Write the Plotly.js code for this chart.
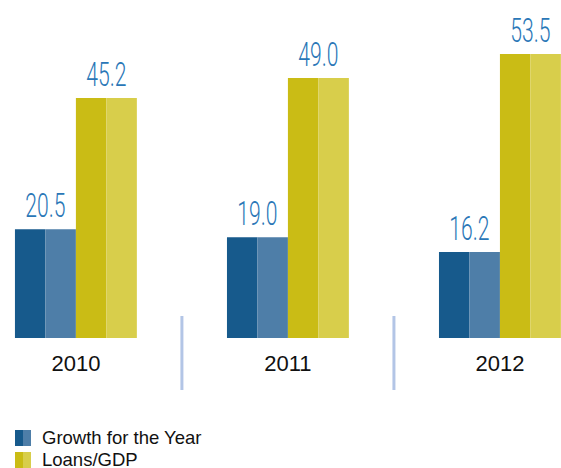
<!DOCTYPE html>
<html>
<head>
<meta charset="utf-8">
<script src="https://cdn.plot.ly/plotly-3.0.1.min.js"></script>
<style>html,body{margin:0;padding:0;background:#fff}#chart{width:561px;height:468px}</style>
</head>
<body>
<div id="chart"></div>
<script>
var years = ['2010', '2011', '2012'];
var growthForYear = [20.5, 19.0, 16.2];
var loansToGDP = [45.2, 49.0, 53.5];
var seriesNames = ['Growth for the Year', 'Loans/GDP'];

var blueDark = '#175a8c', blueLight = '#4e7ea8';
var yellowDark = '#cabc15', yellowLight = '#d8ce4b';

var W = 561, H = 468;
var margin = {l: 0, r: 0, t: 10, b: 130};
var xRange = [-0.358, 2.288];
var yRange = [0, 61.8];
var bargap = 0.425;

function bar(y, color, name) {
  return {type: 'bar', x: years, y: y, name: name, showlegend: false,
    marker: {color: color, line: {width: 0}}, hoverinfo: 'x+y'};
}
var traces = [
  bar(growthForYear, blueDark, seriesNames[0]),
  bar(growthForYear, blueLight, seriesNames[0]),
  bar(loansToGDP, yellowDark, seriesNames[1]),
  bar(loansToGDP, yellowLight, seriesNames[1])
];

var plotW = W - margin.l - margin.r;
var pxPerCat = plotW / (xRange[1] - xRange[0]);
var barW = pxPerCat * (1 - bargap) / 4;

var annotations = [];
var labelFont = {family: 'Roboto, "DejaVu Sans Condensed", sans-serif', size: 33, weight: 300, color: '#2a77b7'};
years.forEach(function (yr, i) {
  annotations.push({x: i, y: growthForYear[i], text: growthForYear[i].toFixed(1), showarrow: false,
    xref: 'x', yref: 'y', yanchor: 'bottom', xshift: -barW, yshift: 2, font: labelFont, name: 'value'});
  annotations.push({x: i, y: loansToGDP[i], text: loansToGDP[i].toFixed(1), showarrow: false,
    xref: 'x', yref: 'y', yanchor: 'bottom', xshift: barW, yshift: 2, font: labelFont, name: 'value'});
});
var nValueLabels = annotations.length;

// custom legend (split colour squares + text)
var plotH = H - margin.t - margin.b;
function py(pix) { return (H - margin.b - pix) / plotH; } // pixel y -> paper y
function px(pix) { return (pix - margin.l) / plotW; }
var legendItems = [
  {name: seriesNames[0], c1: blueDark, c2: blueLight, top: 430},
  {name: seriesNames[1], c1: yellowDark, c2: yellowLight, top: 452}
];
var shapes = [];
legendItems.forEach(function (it) {
  shapes.push({type: 'rect', xref: 'paper', yref: 'paper', x0: px(15), x1: px(23), y0: py(it.top + 16), y1: py(it.top),
    fillcolor: it.c1, line: {width: 0}});
  shapes.push({type: 'rect', xref: 'paper', yref: 'paper', x0: px(23), x1: px(31), y0: py(it.top + 16), y1: py(it.top),
    fillcolor: it.c2, line: {width: 0}});
  annotations.push({xref: 'paper', yref: 'paper', x: px(40), y: py(it.top + 7), xanchor: 'left', yanchor: 'middle',
    text: it.name, showarrow: false, font: {family: '"Liberation Sans", Arial, sans-serif', size: 18.5, color: '#111'}});
});

// separators between years
[0.5, 1.5].forEach(function (xv) {
  shapes.push({type: 'line', xref: 'x', yref: 'paper', x0: xv, x1: xv, y0: py(390), y1: py(316),
    line: {color: '#b3c5e6', width: 3}});
});

var layout = {
  width: W, height: H, margin: margin,
  paper_bgcolor: '#fff', plot_bgcolor: '#fff',
  barmode: 'group', bargap: bargap, bargroupgap: 0,
  showlegend: false,
  xaxis: {type: 'category', range: xRange, showgrid: false, zeroline: false, showline: false,
    ticks: '', ticklabelstandoff: 10, tickfont: {family: '"Liberation Sans", Arial, sans-serif', size: 22, color: '#111'}},
  yaxis: {range: yRange, visible: false, showgrid: false, zeroline: false},
  annotations: annotations, shapes: shapes
};

Plotly.newPlot('chart', traces, layout, {displayModeBar: false, staticPlot: true}).then(function (gd) {
  // condense the value labels horizontally (the reference uses a condensed display face)
  var texts = gd.querySelectorAll('.annotation');
  texts.forEach(function (g, k) {
    if (k >= nValueLabels) return;
    var t = g.querySelector('text.annotation-text');
    if (!t) return;
    var bb = t.getBBox();
    var cx = bb.x + bb.width / 2;
    t.setAttribute('transform', 'translate(' + cx + ',0) scale(0.64,1) translate(' + (-cx) + ',0)');
  });
});
</script>
</body>
</html>
